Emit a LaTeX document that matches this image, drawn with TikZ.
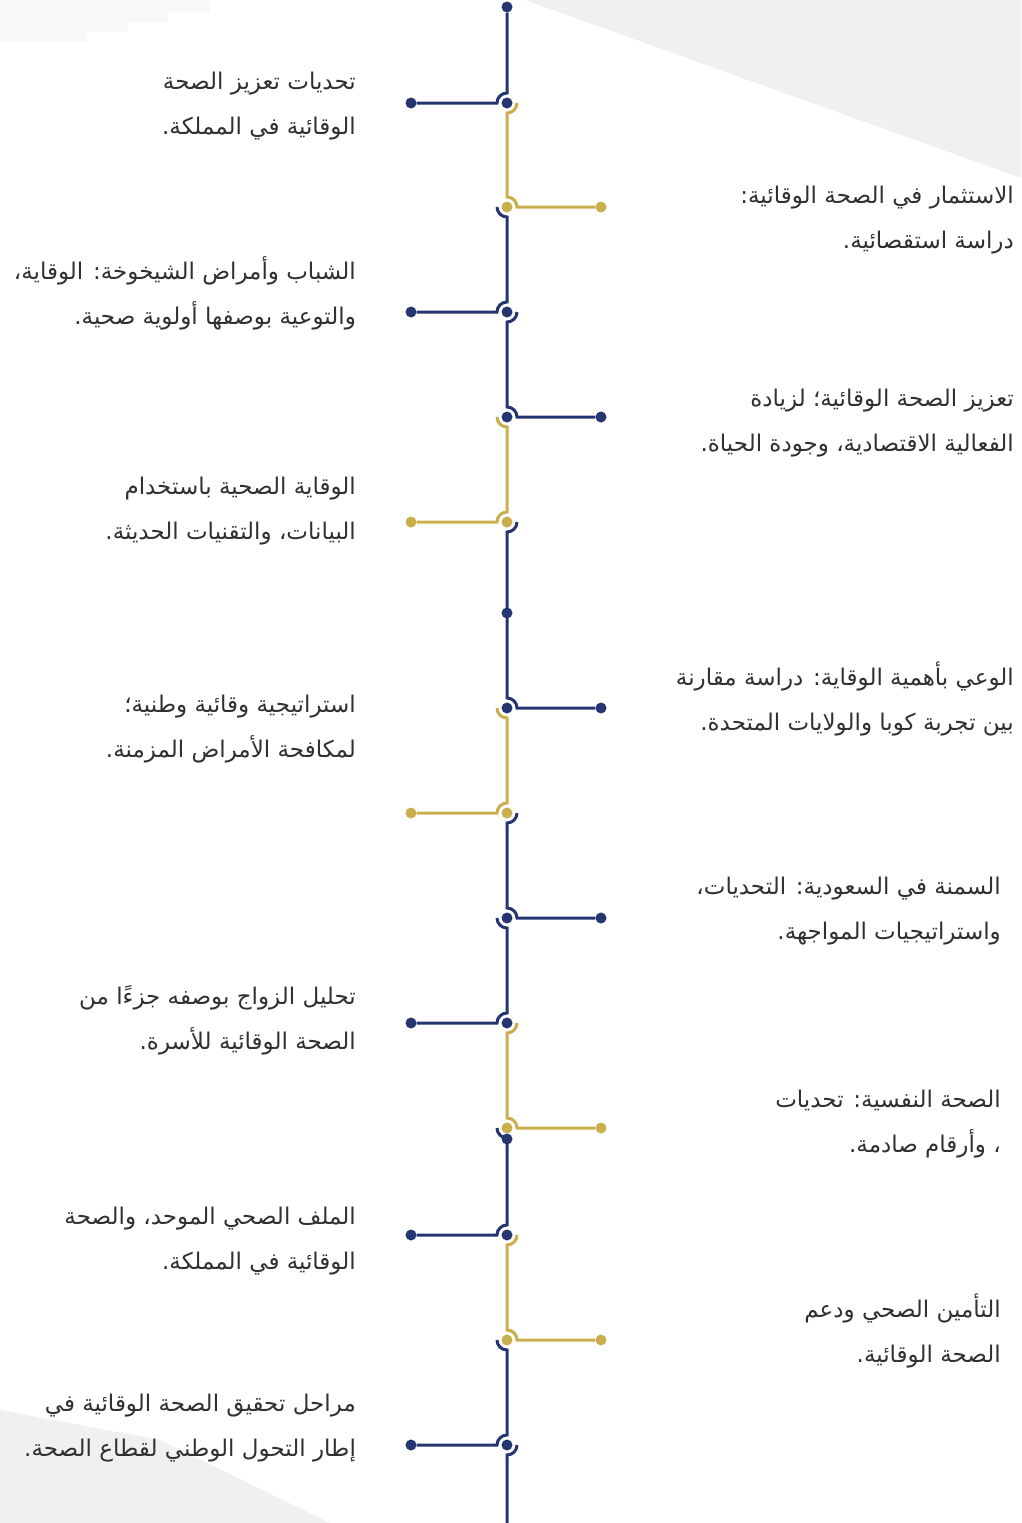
\documentclass[tikz,border=0pt]{standalone}
\usepackage{fontspec}
\newfontfamily\arabicfont[Script=Arabic]{DejaVu Sans}
\TeXXeTstate=1
\definecolor{navy}{HTML}{253570}
\definecolor{gold}{HTML}{C9AE4C}
\definecolor{bggray}{HTML}{F0F0F0}
\definecolor{txtgray}{HTML}{303030}
\tikzset{%
  % Specifications for style of lines and dots:
      navyline/.style = {draw=navy, line width=3pt},
      goldline/.style = {draw=gold, line width=3pt},
       navydot/.style = {circle, fill=navy, inner sep=0pt, minimum size=11pt},
       golddot/.style = {circle, fill=gold, inner sep=0pt, minimum size=11pt},
         title/.style = {font=\arabicfont\fontsize{23}{45}\selectfont,
                         text=txtgray, align=right, inner sep=0pt, anchor=east},
}
\begin{document}
\begin{tikzpicture}[x=1pt,y=-1pt]
  \useasboundingbox (0,0) rectangle (1021,1523);
  % background shapes
  \fill[bggray] (525,0) -- (1021,0) -- (1021,178) -- cycle;
  \fill[bggray!45] (0,0) -- (210,0) -- (210,12) -- (168,12) -- (168,22) -- (128,22)
                   -- (128,32) -- (87,32) -- (87,42) -- (0,42) -- cycle;
  \fill[bggray] (0,1410) -- (160,1440) -- (330,1523) -- (0,1523) -- cycle;

  % Dots on the timeline
  \node (d0)  [navydot] at (507,7) {};
  \node (d1)  [navydot] at (507,103) {};
  \node (d2)  [golddot] at (507,207) {};
  \node (d3)  [navydot] at (507,312) {};
  \node (d4)  [navydot] at (507,417) {};
  \node (d5)  [golddot] at (507,522) {};
  \node (d6)  [navydot] at (507,613) {};
  \node (d7)  [navydot] at (507,708) {};
  \node (d8)  [golddot] at (507,813) {};
  \node (d9)  [navydot] at (507,918) {};
  \node (d10) [navydot] at (507,1023) {};
  \node (d11) [golddot] at (507,1128) {};
  \node (dx)  [navydot] at (507,1139) {};
  \node (d12) [navydot] at (507,1235) {};
  \node (d13) [golddot] at (507,1340) {};
  \node (d14) [navydot] at (507,1445) {};
  \coordinate (bottom) at (507,1523);

  % Dots at the end of the branches
  \node (e1)  [navydot] at (411,103) {};
  \node (e2)  [golddot] at (601,207) {};
  \node (e3)  [navydot] at (411,312) {};
  \node (e4)  [navydot] at (601,417) {};
  \node (e5)  [golddot] at (411,522) {};
  \node (e7)  [navydot] at (601,708) {};
  \node (e8)  [golddot] at (411,813) {};
  \node (e9)  [navydot] at (601,918) {};
  \node (e10) [navydot] at (411,1023) {};
  \node (e11) [golddot] at (601,1128) {};
  \node (e12) [navydot] at (411,1235) {};
  \node (e13) [golddot] at (601,1340) {};
  \node (e14) [navydot] at (411,1445) {};

  % Segments of the timeline
  \draw[navyline] (d0) -- ([yshift=10pt]d1.center) arc[start angle=90,end angle=180,radius=10pt] -- (e1);
  \draw[goldline] ([xshift=10pt]d1.center) arc[start angle=0,end angle=-90,radius=10pt]
                  -- ([yshift=10pt]d2.center) arc[start angle=90,end angle=0,radius=10pt] -- (e2);
  \draw[navyline] ([xshift=-10pt]d2.center) arc[start angle=180,end angle=270,radius=10pt]
                  -- ([yshift=10pt]d3.center) arc[start angle=90,end angle=180,radius=10pt] -- (e3);
  \draw[navyline] ([xshift=10pt]d3.center) arc[start angle=0,end angle=-90,radius=10pt]
                  -- ([yshift=10pt]d4.center) arc[start angle=90,end angle=0,radius=10pt] -- (e4);
  \draw[goldline] ([xshift=-10pt]d4.center) arc[start angle=180,end angle=270,radius=10pt]
                  -- ([yshift=10pt]d5.center) arc[start angle=90,end angle=180,radius=10pt] -- (e5);
  \draw[navyline] ([xshift=10pt]d5.center) arc[start angle=0,end angle=-90,radius=10pt]
                  -- (d6.center) -- ([yshift=10pt]d7.center) arc[start angle=90,end angle=0,radius=10pt] -- (e7);
  \draw[goldline] ([xshift=-10pt]d7.center) arc[start angle=180,end angle=270,radius=10pt]
                  -- ([yshift=10pt]d8.center) arc[start angle=90,end angle=180,radius=10pt] -- (e8);
  \draw[navyline] ([xshift=10pt]d8.center) arc[start angle=0,end angle=-90,radius=10pt]
                  -- ([yshift=10pt]d9.center) arc[start angle=90,end angle=0,radius=10pt] -- (e9);
  \draw[navyline] ([xshift=-10pt]d9.center) arc[start angle=180,end angle=270,radius=10pt]
                  -- ([yshift=10pt]d10.center) arc[start angle=90,end angle=180,radius=10pt] -- (e10);
  \draw[goldline] ([xshift=10pt]d10.center) arc[start angle=0,end angle=-90,radius=10pt]
                  -- ([yshift=10pt]d11.center) arc[start angle=90,end angle=0,radius=10pt] -- (e11);
  \draw[navyline] ([xshift=-10pt]d11.center) arc[start angle=180,end angle=270,radius=10pt]
                  -- (dx.center) -- ([yshift=10pt]d12.center) arc[start angle=90,end angle=180,radius=10pt] -- (e12);
  \draw[goldline] ([xshift=10pt]d12.center) arc[start angle=0,end angle=-90,radius=10pt]
                  -- ([yshift=10pt]d13.center) arc[start angle=90,end angle=0,radius=10pt] -- (e13);
  \draw[navyline] ([xshift=-10pt]d13.center) arc[start angle=180,end angle=270,radius=10pt]
                  -- ([yshift=10pt]d14.center) arc[start angle=90,end angle=180,radius=10pt] -- (e14);
  \draw[navyline] ([xshift=10pt]d14.center) arc[start angle=0,end angle=-90,radius=10pt] -- (bottom);

  % Titles, left column
  \node (t1)  [title] at (356,106) {\beginR تحديات تعزيز الصحة\endR\\\beginR الوقائية في المملكة.\endR};
  \node (t3)  [title] at (356,293) {\beginR الشباب وأمراض الشيخوخة: الوقاية،\endR\\\beginR والتوعية بوصفها أولوية صحية.\endR};
  \node (t5)  [title] at (356,511) {\beginR الوقاية الصحية باستخدام\endR\\\beginR البيانات، والتقنيات الحديثة.\endR};
  \node (t8)  [title] at (356,729) {\beginR استراتيجية وقائية وطنية؛\endR\\\beginR لمكافحة الأمراض المزمنة.\endR};
  \node (t10) [title] at (356,1020) {\beginR تحليل الزواج بوصفه جزءًا من\endR\\\beginR الصحة الوقائية للأسرة.\endR};
  \node (t12) [title] at (356,1241) {\beginR الملف الصحي الموحد، والصحة\endR\\\beginR الوقائية في المملكة.\endR};
  \node (t14) [title] at (356,1428) {\beginR مراحل تحقيق الصحة الوقائية في\endR\\\beginR إطار التحول الوطني لقطاع الصحة.\endR};

  % Titles, right column
  \node (t2)  [title] at (1014,220) {\beginR الاستثمار في الصحة الوقائية:\endR\\\beginR دراسة استقصائية.\endR};
  \node (t4)  [title] at (1014,423) {\beginR تعزيز الصحة الوقائية؛ لزيادة\endR\\\beginR الفعالية الاقتصادية، وجودة الحياة.\endR};
  \node (t7)  [title] at (1014,699) {\beginR الوعي بأهمية الوقاية: دراسة مقارنة\endR\\\beginR بين تجربة كوبا والولايات المتحدة.\endR};
  \node (t9)  [title] at (1001,911) {\beginR السمنة في السعودية: التحديات،\endR\\\beginR واستراتيجيات المواجهة.\endR};
  \node (t11) [title] at (1001,1124) {\beginR الصحة النفسية: تحديات\endR\\\beginR ، وأرقام صادمة.\endR};
  \node (t13) [title] at (1001,1331) {\beginR التأمين الصحي ودعم\endR\\\beginR الصحة الوقائية.\endR};
\end{tikzpicture}
\end{document}
